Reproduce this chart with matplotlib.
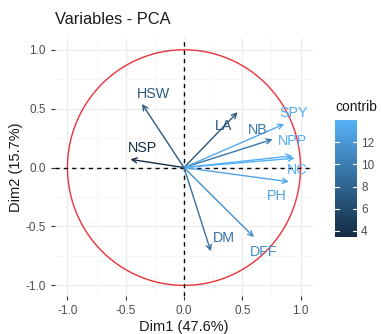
import numpy as np
import matplotlib
matplotlib.use("Agg")
import matplotlib.pyplot as plt
from matplotlib.colors import LinearSegmentedColormap, Normalize

# ---- data ----
variables = ["HSW", "NSP", "LA", "NB", "SPY", "NPP", "NC", "PH", "DM", "DFF"]
dim1 = [-0.36, -0.46, 0.46, 0.76, 0.86, 0.93, 0.95, 0.90, 0.23, 0.60]
dim2 = [0.54, 0.07, 0.47, 0.24, 0.37, 0.10, 0.08, -0.12, -0.71, -0.59]
contrib = [7.2, 3.6, 6.8, 9.5, 13.5, 13.8, 14.0, 13.0, 9.0, 11.2]
tick_vals = [-1.0, -0.5, 0.0, 0.5, 1.0]
cbar_ticks = [4, 6, 8, 10, 12]

# label offsets (pixels) from arrow tips
label_off = [(11, 10), (12, 11), (-14, -14), (-15, 9), (9, 11),
             (0, 15), (2, -12), (-12, -14), (13, 13), (10, -15)]

plt.rcParams['font.family'] = ['Liberation Sans', 'DejaVu Sans']

W, H = 381, 334
fig = plt.figure(figsize=(W / 100, H / 100), dpi=100)
fig.patch.set_facecolor("white")

ax = fig.add_axes([55 / W, (H - 296) / H, 258 / W, 258 / H])
ax.set_xlim(-1.107, 1.107)
ax.set_ylim(-1.09, 1.10)

cmap = LinearSegmentedColormap.from_list("gg", ["#132B43", "#56B1F7"])
norm = Normalize(vmin=3.45, vmax=14.0)

# grid
for v in [-1.0, -0.5, 0.0, 0.5, 1.0]:
    ax.axvline(v, color="#EBEBEB", lw=0.8, zorder=0)
    ax.axhline(v, color="#EBEBEB", lw=0.8, zorder=0)
for v in [-0.75, -0.25, 0.25, 0.75]:
    ax.axvline(v, color="#F4F4F4", lw=0.5, zorder=0)
    ax.axhline(v, color="#F4F4F4", lw=0.5, zorder=0)

# circle
t = np.linspace(0, 2 * np.pi, 400)
ax.plot(np.cos(t), np.sin(t), color="#E8323C", lw=1.0, zorder=1)

ax.axhline(0, color="black", lw=1.0, ls=(0, (3, 3)), zorder=2)
ax.axvline(0, color="black", lw=1.0, ls=(0, (3, 3)), zorder=2)

for name, x, y, c, off in zip(variables, dim1, dim2, contrib, label_off):
    col = cmap(norm(c))
    ax.annotate("", xy=(x, y), xytext=(0, 0),
                arrowprops=dict(arrowstyle="->", color=col, lw=1.0,
                                shrinkA=0, shrinkB=0, mutation_scale=9),
                zorder=3)
    ax.annotate(name, xy=(x, y), xytext=off, textcoords="offset pixels",
                ha="center", va="center", color=col, fontsize=10.3, zorder=4)

for s in ax.spines.values():
    s.set_visible(False)
ax.set_xticks(tick_vals)
ax.set_yticks(tick_vals)
ax.set_xticklabels([f"{v:.1f}" for v in tick_vals])
ax.set_yticklabels([f"{v:.1f}" for v in tick_vals])
ax.tick_params(colors="#333333", labelcolor="#4D4D4D", labelsize=8.5, length=3, width=0.8)
ax.set_xlabel("Dim1 (47.6%)", fontsize=10.5, color="#1A1A1A", labelpad=2)
ax.set_ylabel("Dim2 (15.7%)", fontsize=10.5, color="#1A1A1A", labelpad=2)

fig.text(55 / W, 1 - 20 / H, "Variables - PCA", fontsize=11.8, color="#1A1A1A",
         ha="left", va="center")

# colorbar
cax = fig.add_axes([335 / W, (H - 237) / H, 22 / W, 117 / H])
grad = np.linspace(3.45, 14.0, 200).reshape(-1, 1)
cax.imshow(grad, aspect="auto", cmap=cmap, norm=norm, origin="lower",
           extent=[0, 1, 3.45, 14.0])
for tv in cbar_ticks:
    cax.plot([0, 0.2], [tv, tv], color="white", lw=0.8)
    cax.plot([0.8, 1], [tv, tv], color="white", lw=0.8)
cax.set_xlim(0, 1)
cax.set_ylim(3.45, 14.0)
cax.set_xticks([])
cax.yaxis.tick_right()
cax.set_yticks(cbar_ticks)
cax.tick_params(length=0, labelsize=8.5, labelcolor="#4D4D4D", pad=3)
for s in cax.spines.values():
    s.set_visible(False)
fig.text(335 / W, 1 - 107 / H, "contrib", fontsize=10, color="#1A1A1A",
         ha="left", va="center")

fig.savefig("out.png", dpi=100)
